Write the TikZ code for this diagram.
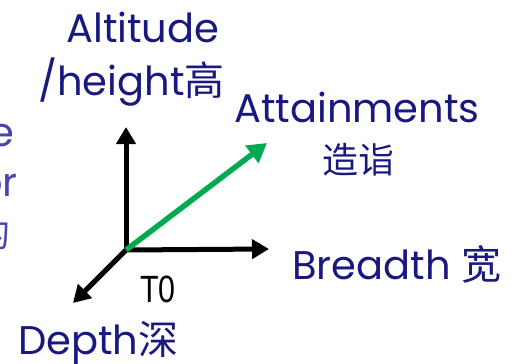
\documentclass[tikz,border=0pt]{standalone}
\usepackage{fontspec}
\setmainfont{Poppins}
\newfontfamily\cjk{Noto Sans CJK SC}
\newfontfamily\narrow[FakeStretch=0.8]{Liberation Sans}
\usetikzlibrary{arrows.meta}
\definecolor{txtnavy}{RGB}{24,24,128}
\definecolor{txtside}{RGB}{70,70,170}
\definecolor{attgreen}{RGB}{0,170,80}

\begin{document}
\begin{tikzpicture}[x=1pt, y=-1pt,
    lbl/.style={inner sep=0pt, text=txtnavy, font=\fontsize{40}{44}\selectfont},
    sidelbl/.style={inner sep=0pt, text=txtside, font=\fontsize{40}{44}\selectfont, anchor=base east},
    axis/.style={line width=5pt, -{Triangle[length=17pt,width=19pt]}},
    attarr/.style={line width=5.5pt, draw=attgreen, -{Triangle[length=19pt,width=21pt]}}
]
\clip (0,0) rectangle (512,364);
\useasboundingbox (0,0) rectangle (512,364);

% axes
\coordinate (o) at (126,250);
\coordinate (up) at (126,127);
\coordinate (right) at (269,249);
\coordinate (down) at (73,303);
\coordinate (att) at (267,143);
\draw[axis] (o) -- (up);
\draw[axis] (o) -- (right);
\draw[axis] (o) -- (down);
\draw[attarr] (o) -- (att);

% labels
\node[lbl, anchor=base west] (alt) at (66,42) {Altitude};
\node[lbl, anchor=base west] (height) at (38,95) {/height{\cjk 高}};
\node[lbl, anchor=base west] (attain) at (234,122) {Attainments};
\node[lbl, font=\cjk\fontsize{36}{40}\selectfont] (zaoyi) at (358,160) {造诣};
\node[lbl, anchor=base west] (breadth) at (292,279) {Breadth {\cjk 宽}};
\node[lbl, anchor=base west] (depth) at (18,354) {Depth{\cjk 深}};
\node[inner sep=0pt, anchor=base west, font=\narrow\fontsize{38}{42}\selectfont] (t0) at (140,302) {T0};

% text cut off at the left edge
\node[sidelbl] (side1) at (15,146) {e};
\node[sidelbl] (side2) at (18,196) {or};
\node[sidelbl, font=\cjk\fontsize{36}{40}\selectfont] (side3) at (11,247) {的};
\end{tikzpicture}
\end{document}
